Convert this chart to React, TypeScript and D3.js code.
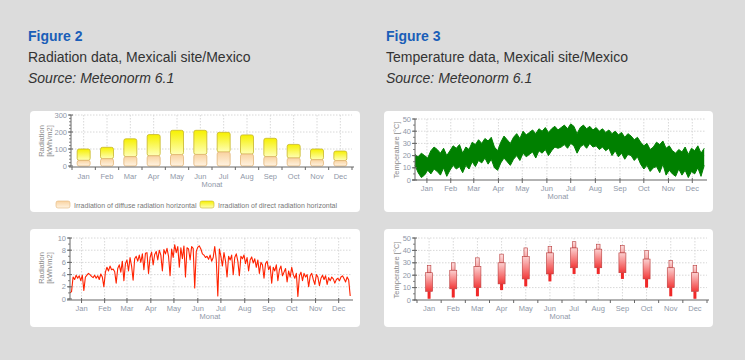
import * as d3 from "d3";

const months = ["Jan", "Feb", "Mar", "Apr", "May", "Jun", "Jul", "Aug", "Sep", "Oct", "Nov", "Dec"];
const midMonthDays = [15, 45, 74, 105, 135, 166, 196, 227, 258, 288, 319, 349];

// Figure 2, monthly irradiation [kWh/m2]
const radTotal = [100, 110, 160, 185, 210, 210, 198, 183, 163, 127, 100, 88];
const radDiffuse = [33, 43, 55, 60, 67, 68, 82, 70, 55, 47, 37, 32];

// Figure 2, daily radiation [kWh/m2], every 2nd day
const dailyRad = [
  1.0, 1.2, 3.6, 3.2, 3.9, 3.4, 3.8, 3.0, 3.9, 1.4, 3.6, 3.9, 4.2, 4.0, 3.7, 3.5,
  3.9, 3.4, 3.8, 3.2, 4.1, 3.6, 2.0, 4.4, 5.2, 4.6, 5.4, 4.8, 4.9, 4.5,
  2.6, 5.0, 5.6, 4.4, 6.2, 3.0, 5.8, 6.4, 4.6, 6.8, 5.4, 3.1, 6.6, 7.0, 6.2,
  7.2, 6.0, 7.4, 4.8, 7.5, 7.6, 4.2, 6.8, 7.7, 5.6, 7.3, 7.8, 6.4, 8.0, 7.2,
  4.6, 8.1, 7.4, 8.3, 7.0, 3.8, 8.2, 6.8, 8.9, 7.6, 8.6, 5.2, 8.4, 6.6, 8.7,
  3.6, 8.4, 8.2, 6.4, 8.6, 8.3, 1.8, 7.8, 8.5, 8.7, 8.2, 7.4, 7.2, 6.8, 7.0,
  6.5, 7.2, 6.2, 6.8, 8.6, 6.4, 0.5, 8.2, 7.0, 5.4, 7.6, 6.2, 3.6, 7.0, 6.4,
  7.2, 4.0, 6.8, 7.4, 6.2, 3.8, 7.0, 6.6, 7.2, 5.8, 6.8, 4.6, 6.4, 6.9, 5.9,
  6.6, 5.2, 6.4, 4.2, 6.0, 5.6, 3.4, 5.8, 6.2, 4.8, 5.4, 2.6, 5.2, 4.6, 5.6,
  3.0, 4.8, 5.4, 3.8, 4.4, 5.0, 2.8, 4.6, 3.6, 5.2, 4.0, 3.4, 4.2, 0.4, 3.8,
  4.4, 3.0, 4.2, 3.6, 4.0, 2.0, 3.8, 4.2, 3.2, 2.4, 4.0, 3.6, 2.2, 3.4, 3.9,
  3.2, 3.8, 2.4, 3.5, 3.0, 3.6, 3.3, 2.6, 3.2, 3.4, 3.0, 3.6, 3.8, 3.3, 2.8, 3.6, 3.1, 0.5,
];

// Figure 3, temperature envelope [°C], every 4th day
const tempHigh = [
  21, 19, 22, 20, 18, 24, 27, 25,
  22, 26, 20, 24, 28, 26, 29,
  22, 27, 25, 31, 29, 33, 30, 34,
  32, 35, 27, 24, 31, 36, 33,
  30, 35, 38, 34, 40, 37, 39, 41,
  38, 42, 40, 43, 39, 42, 44, 41,
  43, 45, 42, 46, 44, 38, 43,
  45, 42, 44, 41, 43, 40, 42, 39,
  41, 38, 40, 37, 39, 35, 38,
  36, 33, 35, 31, 28, 30, 25, 27,
  31, 29, 32, 26, 28, 24, 22, 25,
  23, 27, 21, 26, 24, 28, 22, 26,
];
const tempLow = [
  12, 6, 2, 4, 8, 5, 9, 7,
  4, 10, 3, 8, 12, 9, 11,
  6, 12, 9, 15, 11, 16, 14, 18,
  13, 17, 10, 8, 14, 18, 15,
  12, 17, 20, 16, 22, 19, 21, 23,
  18, 24, 22, 25, 20, 24, 27, 26,
  27, 29, 26, 30, 28, 22, 27,
  29, 26, 30, 27, 28, 25, 27, 24,
  26, 20, 24, 19, 22, 17, 21,
  20, 16, 19, 13, 9, 12, 7, 10,
  11, 6, 13, 4, 8, 5, 3, 9,
  4, 8, 2, 7, 5, 10, 3, 12,
];

// Figure 3, monthly temperature statistics [°C]
const monthMax = [28, 30, 34, 37, 42, 43, 47, 45, 44, 40, 32, 28];
const monthUpper = [22, 24, 27, 30, 35, 38, 42, 41, 38, 33, 26, 22];
const monthLower = [7, 9, 10, 13, 17, 21, 26, 26, 22, 17, 10, 7];
const monthMin = [1, 2, 3, 8, 11, 15, 21, 21, 17, 10, 3, 1];

const FONT = "'Liberation Sans', Arial, sans-serif";
const tickColor = "#8f98a8";
const axisColor = "#666";
const gridColor = "#d8d8d8";

function YAxis({ x, y, ticks, minor }: { x: number; y: d3.ScaleLinear<number, number>; ticks: number[]; minor: number[] }) {
  const [y0, y1] = y.range();
  return (
    <g>
      <line x1={x} x2={x} y1={y0} y2={y1} stroke={axisColor} />
      {minor.map((t) => (
        <line key={"m" + t} x1={x - 2} x2={x} y1={y(t)} y2={y(t)} stroke={axisColor} strokeWidth={0.8} />
      ))}
      {ticks.map((t) => (
        <g key={t}>
          <line x1={x - 3} x2={x + 2} y1={y(t)} y2={y(t)} stroke={axisColor} />
          <text x={x - 4} y={y(t) + 2.5} textAnchor="end" fontSize={7.5} fill={tickColor} fontFamily={FONT}>
            {t}
          </text>
        </g>
      ))}
    </g>
  );
}

function YLabel({ x, y, lines }: { x: number; y: number; lines: string[] }) {
  return (
    <text transform={`translate(${x},${y}) rotate(-90)`} textAnchor="middle" fontSize={7.5} fill="#8a8a8a" fontFamily={FONT}>
      {lines.map((l, i) => (
        <tspan key={i} x={0} dy={i === 0 ? 0 : 8}>
          {l}
        </tspan>
      ))}
    </text>
  );
}

function MonthBandAxis({ band, yAxis, labelY }: { band: d3.ScaleBand<string>; yAxis: number; labelY: number }) {
  const [r0, r1] = band.range();
  const step = band.step();
  return (
    <g>
      <line x1={r0 - 3} x2={r1 + 2} y1={yAxis} y2={yAxis} stroke={axisColor} />
      {d3.range(13).map((i) => (
        <line key={i} x1={r0 + i * step} x2={r0 + i * step} y1={yAxis} y2={yAxis + 3} stroke={axisColor} />
      ))}
      {months.map((m) => (
        <text key={m} x={band(m)! + band.bandwidth() / 2} y={labelY} textAnchor="middle" fontSize={7.5} fill={tickColor} fontFamily={FONT}>
          {m}
        </text>
      ))}
    </g>
  );
}

function DayAxis({ x, yAxis, labelY }: { x: d3.ScaleLinear<number, number>; yAxis: number; labelY: number }) {
  const [r0, r1] = x.range();
  return (
    <g>
      <line x1={r0 - 3} x2={r1 + 2} y1={yAxis} y2={yAxis} stroke={axisColor} />
      {midMonthDays.map((d, i) => (
        <g key={i}>
          <line x1={x(d)} x2={x(d)} y1={yAxis - 2} y2={yAxis + 3} stroke={axisColor} />
          <text x={x(d)} y={labelY} textAnchor="middle" fontSize={7.5} fill={tickColor} fontFamily={FONT}>
            {months[i]}
          </text>
        </g>
      ))}
    </g>
  );
}

function RadiationBars() {
  const band = d3.scaleBand<string>().domain(months).range([72, 352]);
  const y = d3.scaleLinear().domain([0, 300]).range([166, 115]);
  const bw = 13;
  return (
    <g>
      {[100, 200, 300].map((t) => (
        <line key={t} x1={72} x2={352} y1={y(t)} y2={y(t)} stroke={gridColor} strokeDasharray="1.5,1.5" />
      ))}
      {months.map((m) => (
        <line key={m} x1={band(m)! + band.bandwidth() / 2} x2={band(m)! + band.bandwidth() / 2} y1={115} y2={166} stroke={gridColor} strokeDasharray="1.5,1.5" />
      ))}
      {months.map((m, i) => {
        const cx = band(m)! + band.bandwidth() / 2;
        return (
          <g key={m}>
            <rect x={cx - bw / 2} y={y(radTotal[i])} width={bw} height={y(radDiffuse[i]) - y(radTotal[i])} rx={2} fill="url(#gYellow)" stroke="#c7b52a" strokeWidth={0.8} />
            <rect x={cx - bw / 2} y={y(radDiffuse[i])} width={bw} height={y(0) - y(radDiffuse[i])} rx={2} fill="url(#gPeach)" stroke="#e2b57a" strokeWidth={0.8} />
          </g>
        );
      })}
      <YAxis x={71} y={y} ticks={[0, 100, 200, 300]} minor={d3.range(0, 301, 20)} />
      <MonthBandAxis band={band} yAxis={167} labelY={179} />
      <text x={212} y={187} textAnchor="middle" fontSize={7.5} fill={tickColor} fontFamily={FONT}>Monat</text>
      <YLabel x={44} y={141} lines={["Radiation", "[kWh/m2]"]} />
      <rect x={56} y={201} width={14} height={7} rx={2} fill="url(#gPeach)" stroke="#e2b57a" strokeWidth={0.6} />
      <text x={74} y={207.5} fontSize={7} fill="#777" fontFamily={FONT}>Irradiation of diffuse radiation horizontal</text>
      <rect x={200} y={201} width={14} height={7} rx={2} fill="url(#gYellow)" stroke="#c7b52a" strokeWidth={0.6} />
      <text x={218} y={207.5} fontSize={7} fill="#777" fontFamily={FONT}>Irradiation of direct radiation horizontal</text>
    </g>
  );
}

function RadiationDaily() {
  const x = d3.scaleLinear().domain([0, 365]).range([70, 351]);
  const y = d3.scaleLinear().domain([0, 10]).range([299, 238]);
  const line = d3.line<number>().x((_, i) => x(i * 2)).y((d) => y(d));
  return (
    <g>
      {[2, 4, 6, 8, 10].map((t) => (
        <line key={t} x1={70} x2={351} y1={y(t)} y2={y(t)} stroke={gridColor} strokeDasharray="1.5,1.5" />
      ))}
      {midMonthDays.map((d) => (
        <line key={d} x1={x(d)} x2={x(d)} y1={238} y2={299} stroke={gridColor} strokeDasharray="1.5,1.5" />
      ))}
      <path d={line(dailyRad)!} fill="none" stroke="#ff2200" strokeWidth={1.1} strokeLinejoin="round" />
      <YAxis x={70} y={y} ticks={[0, 2, 4, 6, 8, 10]} minor={d3.range(0, 11, 1)} />
      <DayAxis x={x} yAxis={300} labelY={311} />
      <text x={210} y={319} textAnchor="middle" fontSize={7.5} fill={tickColor} fontFamily={FONT}>Monat</text>
      <YLabel x={44} y={268} lines={["Radiation", "[kWh/m2]"]} />
    </g>
  );
}

function TemperatureHourly() {
  const x = d3.scaleLinear().domain([0, 365]).range([415, 705]);
  const y = d3.scaleLinear().domain([0, 50]).range([180, 119]);
  const area = d3
    .area<number>()
    .x((_, i) => x(i * 4))
    .y0((_, i) => y(tempLow[i]))
    .y1((d) => y(d));
  const edge = d3.line<number>().x((_, i) => x(i * 4)).y((d) => y(d));
  return (
    <g>
      {[10, 20, 30, 40, 50].map((t) => (
        <line key={t} x1={415} x2={705} y1={y(t)} y2={y(t)} stroke={gridColor} strokeDasharray="1.5,1.5" />
      ))}
      {midMonthDays.map((d) => (
        <line key={d} x1={x(d)} x2={x(d)} y1={119} y2={180} stroke={gridColor} strokeDasharray="1.5,1.5" />
      ))}
      <path d={area(tempHigh)!} fill="#008000" />
      <path d={edge(tempHigh)!} fill="none" stroke="#008000" strokeWidth={1} />
      <path d={edge(tempLow)!} fill="none" stroke="#008000" strokeWidth={1} />
      <YAxis x={415} y={y} ticks={[0, 10, 20, 30, 40, 50]} minor={d3.range(0, 51, 5)} />
      <DayAxis x={x} yAxis={180} labelY={191} />
      <text x={558} y={199} textAnchor="middle" fontSize={7.5} fill={tickColor} fontFamily={FONT}>Monat</text>
      <YLabel x={399} y={150} lines={["Temperature [°C]"]} />
    </g>
  );
}

function TemperatureMonthly() {
  const band = d3.scaleBand<string>().domain(months).range([417, 707]);
  const y = d3.scaleLinear().domain([0, 50]).range([300, 238]);
  return (
    <g>
      {[10, 20, 30, 40, 50].map((t) => (
        <line key={t} x1={415} x2={707} y1={y(t)} y2={y(t)} stroke={gridColor} strokeDasharray="1.5,1.5" />
      ))}
      {months.map((m) => (
        <line key={m} x1={band(m)! + band.bandwidth() / 2} x2={band(m)! + band.bandwidth() / 2} y1={238} y2={300} stroke={gridColor} strokeDasharray="1.5,1.5" />
      ))}
      {months.map((m, i) => {
        const cx = band(m)! + band.bandwidth() / 2;
        return (
          <g key={m}>
            <rect x={cx - 1.5} y={y(monthLower[i])} width={3} height={y(monthMin[i]) - y(monthLower[i])} fill="#f02828" />
            <rect x={cx - 1.8} y={y(monthMax[i])} width={3.6} height={y(monthUpper[i]) - y(monthMax[i])} fill="url(#gPinkLight)" stroke="#b83a3a" strokeWidth={0.6} />
            <rect x={cx - 3.5} y={y(monthUpper[i])} width={7} height={y(monthLower[i]) - y(monthUpper[i])} fill="url(#gPink)" stroke="#b83a3a" strokeWidth={0.6} />
          </g>
        );
      })}
      <YAxis x={415} y={y} ticks={[0, 10, 20, 30, 40, 50]} minor={d3.range(0, 51, 5)} />
      <MonthBandAxis band={band} yAxis={300} labelY={311} />
      <text x={560} y={319} textAnchor="middle" fontSize={7.5} fill={tickColor} fontFamily={FONT}>Monat</text>
      <YLabel x={399} y={270} lines={["Temperature [°C]"]} />
    </g>
  );
}

function Heading({ x, num, title }: { x: number; num: string; title: string }) {
  return (
    <g fontFamily={FONT}>
      <text x={x} y={41} fontSize={14} fontWeight="bold" fill="#1a5eb8">{`Figure ${num}`}</text>
      <text x={x} y={62} fontSize={14} fill="#333">{title}</text>
      <text x={x} y={83} fontSize={14} fontStyle="italic" fill="#333">Source: Meteonorm 6.1</text>
    </g>
  );
}

export default function App() {
  const cards = [
    { x: 30, y: 111, w: 330, h: 101 },
    { x: 30, y: 229, w: 330, h: 98 },
    { x: 384, y: 111, w: 329, h: 101 },
    { x: 384, y: 229, w: 329, h: 98 },
  ];
  return (
    <div style={{ position: "fixed", left: 0, top: 0 }}>
      <svg width={745} height={360} style={{ display: "block" }}>
        <defs>
          <linearGradient id="gYellow" x1="0" y1="0" x2="0" y2="1">
            <stop offset="0" stopColor="#f6f000" />
            <stop offset="1" stopColor="#ffffb8" />
          </linearGradient>
          <linearGradient id="gPeach" x1="0" y1="0" x2="0" y2="1">
            <stop offset="0" stopColor="#f9d3a0" />
            <stop offset="1" stopColor="#fff3e2" />
          </linearGradient>
          <linearGradient id="gPink" x1="0" y1="0" x2="0" y2="1">
            <stop offset="0" stopColor="#fbd0d0" />
            <stop offset="1" stopColor="#f23a3a" />
          </linearGradient>
          <linearGradient id="gPinkLight" x1="0" y1="0" x2="0" y2="1">
            <stop offset="0" stopColor="#fde0e0" />
            <stop offset="1" stopColor="#f7a8a8" />
          </linearGradient>
        </defs>
        <rect width={745} height={360} fill="#dcdcdc" />
        <Heading x={28} num="2" title="Radiation data, Mexicali site/Mexico" />
        <Heading x={386} num="3" title="Temperature data, Mexicali site/Mexico" />
        {cards.map((c, i) => (
          <rect key={i} x={c.x} y={c.y} width={c.w} height={c.h} rx={4} fill="#fff" />
        ))}
        <RadiationBars />
        <RadiationDaily />
        <TemperatureHourly />
        <TemperatureMonthly />
      </svg>
    </div>
  );
}
